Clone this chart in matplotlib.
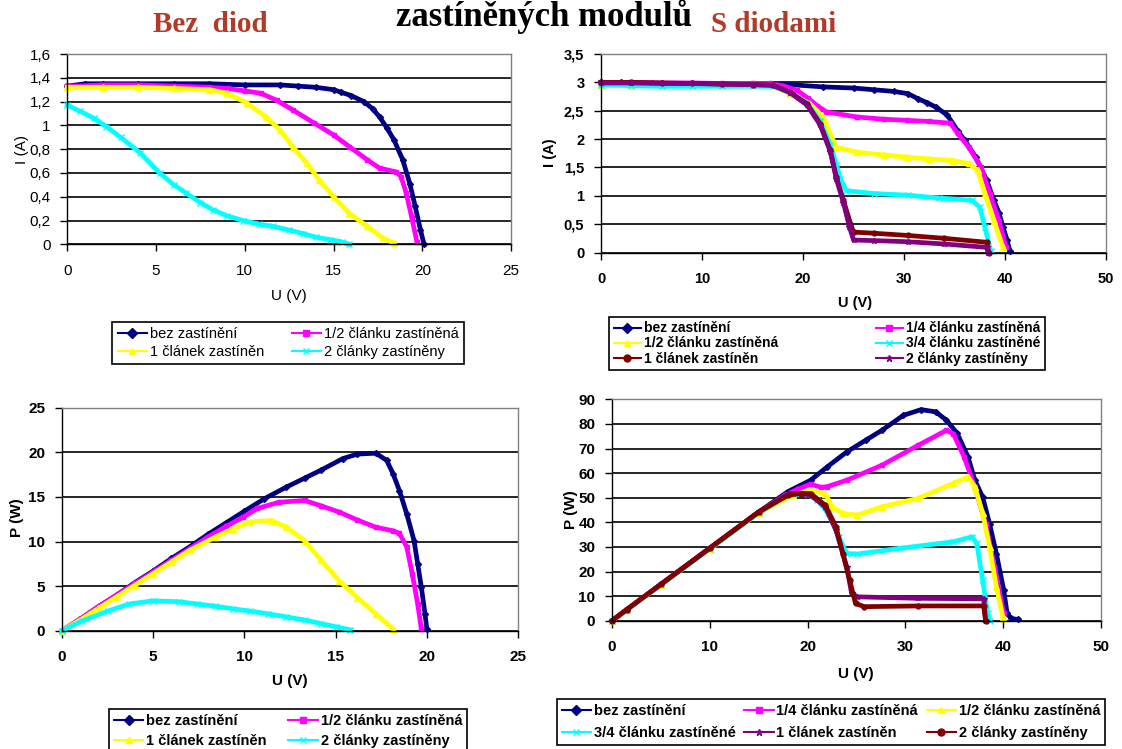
import matplotlib
matplotlib.use("Agg")
import matplotlib.pyplot as plt
from matplotlib.lines import Line2D

W, H = 1122, 749

# ---- I-V, bez diod ----
u1_bez = [0, 1, 2, 4, 6, 8, 10, 12, 13, 14, 15, 15.4, 16, 16.7, 17.2, 17.6, 18, 18.4, 18.9, 19.3, 19.6, 19.9, 20.1]
i1_bez = [1.33, 1.35, 1.35, 1.35, 1.35, 1.35, 1.34, 1.34, 1.33, 1.32, 1.30, 1.28, 1.25, 1.20, 1.14, 1.07, 0.98, 0.88, 0.71, 0.51, 0.32, 0.12, 0.0]
u1_pul = [0, 0.5, 2, 4, 6, 8, 9, 10, 10.9, 11.8, 12.7, 13.9, 15.0, 15.9, 16.9, 17.6, 18.5, 18.8, 19.1, 19.4, 19.7]
i1_pul = [1.33, 1.33, 1.34, 1.34, 1.33, 1.32, 1.31, 1.29, 1.27, 1.21, 1.13, 1.02, 0.92, 0.82, 0.71, 0.64, 0.61, 0.57, 0.43, 0.23, 0.02]
u1_jeden = [0, 2, 4, 6, 8, 9, 10.1, 11.2, 12.0, 12.7, 13.5, 14.2, 15.0, 15.9, 16.9, 17.8, 18.4]
i1_jeden = [1.32, 1.32, 1.32, 1.31, 1.30, 1.27, 1.19, 1.07, 0.96, 0.82, 0.68, 0.54, 0.40, 0.26, 0.15, 0.05, 0.01]
u1_dva = [0, 0.7, 1.5, 2.2, 3.0, 4.1, 5.2, 6.0, 6.7, 7.5, 8.2, 9.0, 9.9, 10.8, 11.6, 12.5, 13.3, 14.0, 14.8, 15.5, 15.9]
i1_dva = [1.17, 1.12, 1.06, 0.99, 0.90, 0.77, 0.60, 0.50, 0.43, 0.35, 0.29, 0.24, 0.20, 0.17, 0.15, 0.12, 0.09, 0.06, 0.04, 0.02, 0.0]

# ---- I-V, s diodami ----
u2_bez = [0, 2, 5, 10, 15, 18.7, 22, 25, 27, 29, 30.4, 31.4, 32.3, 33.2, 34.3, 35.3, 36.0, 37.1, 38.2, 38.9, 39.4, 39.8, 40.2, 40.5]
i2_bez = [3.0, 3.0, 2.98, 2.97, 2.96, 2.96, 2.92, 2.90, 2.87, 2.84, 2.80, 2.71, 2.64, 2.56, 2.42, 2.15, 1.98, 1.68, 1.27, 0.92, 0.70, 0.45, 0.22, 0.02]
u2_ctvrt = [0, 3, 6, 9, 12, 15, 16.7, 18, 19.4, 20.5, 21.4, 22.3, 25.3, 28, 30.3, 32.5, 34.6, 35.3, 36.4, 37.6, 38.5, 39.4, 40.1]
i2_ctvrt = [3.0, 3.0, 2.99, 2.99, 2.98, 2.98, 2.98, 2.94, 2.86, 2.72, 2.59, 2.48, 2.39, 2.35, 2.33, 2.31, 2.28, 2.10, 1.86, 1.51, 1.04, 0.56, 0.09]
u2_pul = [0, 3, 6, 9, 12, 15, 17, 18.7, 20.7, 22.0, 22.7, 23.3, 25.3, 28, 30.3, 32.5, 34.9, 36.4, 37.3, 38.0, 38.9, 39.8]
i2_pul = [2.96, 2.96, 2.95, 2.95, 2.95, 2.95, 2.94, 2.80, 2.62, 2.39, 2.09, 1.86, 1.77, 1.72, 1.68, 1.65, 1.62, 1.57, 1.45, 1.04, 0.56, 0.09]
u2_tri = [0, 3, 6, 9, 12, 15, 17, 18.7, 20.4, 21.7, 22.7, 23.3, 23.7, 24.3, 27.0, 30.4, 33.5, 36.7, 37.5, 38.0, 38.6]
i2_tri = [2.96, 2.94, 2.93, 2.93, 2.93, 2.93, 2.93, 2.82, 2.64, 2.32, 1.90, 1.55, 1.30, 1.09, 1.04, 1.01, 0.96, 0.92, 0.80, 0.45, 0.02]
u2_jeden = [0, 3, 6, 9, 12, 15, 17, 18.7, 20.4, 21.7, 22.7, 23.3, 24.0, 24.7, 25.0, 27, 30.4, 34, 38.2, 38.4]
i2_jeden = [3.0, 3.0, 2.99, 2.98, 2.97, 2.96, 2.95, 2.83, 2.62, 2.27, 1.80, 1.33, 0.92, 0.51, 0.36, 0.34, 0.30, 0.25, 0.18, 0.0]
u2_dva = [0, 3, 6, 9, 12, 15, 17, 18.7, 20.4, 21.7, 22.7, 23.3, 24.0, 24.6, 25.0, 27, 30.4, 34, 38.2, 38.3]
i2_dva = [2.99, 2.99, 2.98, 2.98, 2.97, 2.96, 2.95, 2.82, 2.60, 2.25, 1.78, 1.30, 0.88, 0.45, 0.22, 0.21, 0.19, 0.15, 0.09, 0.0]

# ---- P-V, bez diod ----
u3_bez = [0, 1, 2, 3, 4, 5, 6, 7, 8, 9, 10, 11.1, 12.3, 13.3, 14.2, 15.4, 16.2, 17.2, 17.8, 18.15, 18.5, 18.9, 19.3, 19.5, 19.7, 19.9, 20.0]
p3_bez = [0, 1.3, 2.7, 4.0, 5.4, 6.7, 8.1, 9.4, 10.8, 12.1, 13.4, 14.8, 16.1, 17.1, 18.0, 19.3, 19.8, 19.9, 19.1, 17.6, 15.7, 13.1, 10.1, 7.5, 4.9, 1.9, 0.2]
u3_pul = [0, 1, 2, 3, 4, 5, 6, 7, 8, 9, 9.9, 10.7, 11.9, 13.3, 14.2, 15.2, 16.2, 17.2, 18.15, 18.5, 18.9, 19.2, 19.5, 19.7]
p3_pul = [0, 1.3, 2.7, 4.0, 5.3, 6.6, 7.9, 9.2, 10.5, 11.7, 12.7, 13.7, 14.4, 14.6, 14.0, 13.3, 12.4, 11.6, 11.2, 10.9, 9.4, 6.4, 3.0, 0.2]
u3_jeden = [0, 1, 2, 3, 4, 5, 6, 7, 8.4, 9.35, 10.3, 11.5, 12.3, 13.3, 14.2, 15.2, 16.2, 17.2, 18.15]
p3_jeden = [0, 1.2, 2.5, 3.8, 5.1, 6.4, 7.7, 9.0, 10.5, 11.4, 12.2, 12.35, 11.6, 10.1, 7.9, 5.6, 3.7, 1.9, 0.2]
u3_dva = [0, 1.1, 2.5, 3.7, 5.0, 6.4, 7.4, 8.4, 9.4, 10.3, 11.3, 12.3, 13.3, 14.2, 15.0, 15.8]
p3_dva = [0, 1.1, 2.2, 3.0, 3.35, 3.25, 3.0, 2.75, 2.45, 2.2, 1.9, 1.55, 1.2, 0.8, 0.45, 0.1]

# ---- P-V, s diodami ----
u4_bez = [0, 1.5, 5, 10, 15, 18, 20.3, 22, 24, 26, 27.6, 29.8, 31.6, 33.1, 34.2, 35.3, 36.4, 37.1, 37.9, 38.6, 39.3, 40.05, 40.4, 40.8, 41.5]
p4_bez = [0, 4.5, 14.8, 29.5, 44.2, 52.5, 57.1, 62.5, 68.6, 73.5, 77.4, 83.5, 85.8, 84.9, 81.5, 76.1, 66.6, 57.1, 50.3, 39.5, 27.3, 12.5, 3.0, 0.9, 0.5]
u4_ctvrt = [0, 1.5, 5, 10, 15, 17.7, 19, 20.3, 21.4, 22, 24, 27.6, 31.3, 34.2, 34.9, 36.0, 37.1, 38.2, 39.1, 40.05]
p4_ctvrt = [0, 4.5, 14.8, 29.5, 44.2, 51, 53.5, 55.5, 54.2, 54.5, 57.1, 63.2, 71.3, 77.4, 76.0, 66.6, 54.4, 39.5, 21.9, 3.0]
u4_pul = [0, 1.5, 5, 10, 15, 18.5, 20.3, 21.8, 22.5, 23.6, 25.1, 27.6, 31.3, 34.9, 36.4, 37.1, 37.9, 38.6, 39.3, 40.0]
p4_pul = [0, 4.4, 14.6, 29.2, 43.8, 51, 53, 51.7, 46.3, 43.6, 42.9, 46.3, 49.7, 55.8, 58.5, 54.4, 43.6, 30.0, 13.8, 0.9]
u4_tri = [0, 1.5, 5, 10, 15, 18, 20, 21, 22.1, 23.2, 24.0, 25.1, 29.4, 34.9, 36.8, 37.3, 37.9, 38.4, 38.6]
p4_tri = [0, 4.4, 14.6, 29.2, 43.8, 51, 51.5, 49, 43.6, 34.1, 27.3, 27.1, 29.4, 32.1, 34.1, 31.4, 16.5, 3.0, 0]
u4_jeden = [0, 1.5, 5, 10, 15, 18.1, 19.5, 20.3, 21.8, 22.9, 24.0, 24.5, 25.1, 31.3, 38.0, 38.2]
p4_jeden = [0, 4.5, 14.8, 29.5, 44.2, 51.7, 51.7, 51, 46.3, 36.8, 21.9, 11.1, 9.7, 9.1, 8.9, 0]
u4_dva = [0, 1.5, 5, 10, 15, 18, 19.3, 20.3, 21.8, 22.9, 23.6, 24.3, 24.9, 25.8, 31.3, 38.0, 38.2]
p4_dva = [0, 4.5, 14.8, 29.5, 44.2, 51, 51.7, 51.7, 47, 38.2, 27.3, 16.5, 7.0, 5.7, 6.0, 6.0, 0]

lbl_bez = "bez zastínění"
lbl_ctvrt = "1/4 článku zastíněná"
lbl_pul = "1/2 článku zastíněná"
lbl_tri = "3/4 článku zastíněné"
lbl_jeden = "1 článek zastíněn"
lbl_dva = "2 články zastíněny"

NAVY, MAG, YEL, CYA, PUR, MAR = "#000080", "#FF00FF", "#FFFF00", "#00FFFF", "#800080", "#800000"
TITLE_RED = "#B23A28"

plt.rcParams["font.family"] = ["Liberation Sans", "DejaVu Sans"]

fig = plt.figure(figsize=(W / 100, H / 100), dpi=100)


def px_axes(l, t, r, b):
    return fig.add_axes([l / W, 1 - b / H, (r - l) / W, (b - t) / H])


def style(ax, xlim, ylim, xticks, yticks, ylabels, bold, fs):
    ax.set_xlim(*xlim)
    ax.set_ylim(*ylim)
    ax.set_xticks(xticks)
    ax.set_yticks(yticks)
    ax.set_yticklabels(ylabels)
    ax.set_xticklabels([str(v) for v in xticks])
    w = "bold" if bold else "normal"
    for t in ax.get_xticklabels() + ax.get_yticklabels():
        t.set_fontweight(w)
        t.set_fontsize(fs)
    ax.tick_params(direction="out", length=5, width=1, color="black")
    ax.tick_params(axis="x", pad=9)
    ax.tick_params(axis="y", pad=7)
    ax.yaxis.grid(True, color="black", lw=1.2)
    ax.set_axisbelow(True)
    for s in ("left", "bottom"):
        ax.spines[s].set_color("black")
        ax.spines[s].set_linewidth(1)
    for s in ("top", "right"):
        ax.spines[s].set_color("#808080")
        ax.spines[s].set_linewidth(1)


def series(ax, u, v, color, marker, ms=4, lw=3.4):
    ax.plot(u, v, color=color, lw=lw, marker=marker, ms=ms, mec=color, mfc=color, clip_on=False)


def handle(color, marker):
    return Line2D([], [], color=color, lw=1.5, marker=marker, ms=5, mec=color, mfc=color)


def put_legend(ax, items, cx, cy, ncol, bold, fs, lsp, csp):
    hs = [handle(c, m) for c, m, _ in items]
    ls = [l for _, _, l in items]
    leg = ax.legend(hs, ls, loc="center", bbox_to_anchor=(cx / W, 1 - cy / H),
                    bbox_transform=fig.transFigure, ncol=ncol, frameon=True,
                    fancybox=False, edgecolor="black", framealpha=1,
                    prop={"size": fs, "weight": "bold" if bold else "normal"},
                    handlelength=2.0, handletextpad=0.2, labelspacing=lsp,
                    columnspacing=csp, borderpad=0.35)
    leg.get_frame().set_linewidth(1.2)
    return leg


def flabel(x, y, s, rot=0, bold=False, fs=11):
    fig.text(x / W, 1 - y / H, s, ha="center", va="center", rotation=rot,
             fontsize=fs, fontweight="bold" if bold else "normal")


# Panel 1
ax1 = px_axes(67.3, 54, 511, 244.3)
series(ax1, u1_bez, i1_bez, NAVY, "D", ms=3)
series(ax1, u1_pul, i1_pul, MAG, "s", ms=3.5)
series(ax1, u1_jeden, i1_jeden, YEL, "^", ms=4)
series(ax1, u1_dva, i1_dva, CYA, "x", ms=4)
style(ax1, (0, 25), (0, 1.6), [0, 5, 10, 15, 20, 25],
      [0, 0.2, 0.4, 0.6, 0.8, 1, 1.2, 1.4, 1.6],
      ["0", "0,2", "0,4", "0,6", "0,8", "1", "1,2", "1,4", "1,6"], False, 11)
flabel(289, 296, "U (V)")
flabel(22, 150, "I (A)", rot=90)
put_legend(ax1, [(NAVY, "D", lbl_bez), (YEL, "^", lbl_jeden),
                 (MAG, "s", lbl_pul), (CYA, "x", lbl_dva)],
           288, 343, 2, False, 10.5, 0.3, 1.9)

# Panel 2
ax2 = px_axes(601, 54, 1106, 252.5)
series(ax2, u2_bez, i2_bez, NAVY, "D", ms=3)
series(ax2, u2_ctvrt, i2_ctvrt, MAG, "s", ms=3.5)
series(ax2, u2_pul, i2_pul, YEL, "^", ms=4)
series(ax2, u2_tri, i2_tri, CYA, "x", ms=4)
series(ax2, u2_jeden, i2_jeden, MAR, "o", ms=3.5)
series(ax2, u2_dva, i2_dva, PUR, "*", ms=4)
style(ax2, (0, 50), (0, 3.5), [0, 10, 20, 30, 40, 50],
      [0, 0.5, 1, 1.5, 2, 2.5, 3, 3.5],
      ["0", "0,5", "1", "1,5", "2", "2,5", "3", "3,5"], True, 10.5)
flabel(855, 303, "U (V)", bold=True, fs=10.5)
flabel(550, 153, "I (A)", rot=90, bold=True, fs=10.5)
put_legend(ax2, [(NAVY, "D", lbl_bez), (YEL, "^", lbl_pul), (MAR, "o", lbl_jeden),
                 (MAG, "s", lbl_ctvrt), (CYA, "x", lbl_tri), (PUR, "*", lbl_dva)],
           827, 343.5, 2, True, 10, 0.08, 7.0)

# Panel 3
ax3 = px_axes(62, 407.7, 518, 630.7)
series(ax3, u3_bez, p3_bez, NAVY, "D", ms=3)
series(ax3, u3_pul, p3_pul, MAG, "s", ms=3.5)
series(ax3, u3_jeden, p3_jeden, YEL, "^", ms=4)
series(ax3, u3_dva, p3_dva, CYA, "x", ms=4)
style(ax3, (0, 25), (0, 25), [0, 5, 10, 15, 20, 25], [0, 5, 10, 15, 20, 25],
      ["0", "5", "10", "15", "20", "25"], True, 11)
flabel(290, 681, "U (V)", bold=True, fs=11)
flabel(17, 518, "P (W)", rot=90, bold=True, fs=11)
put_legend(ax3, [(NAVY, "D", lbl_bez), (YEL, "^", lbl_jeden),
                 (MAG, "s", lbl_pul), (CYA, "x", lbl_dva)],
           288, 731, 2, True, 10.5, 0.45, 1.5)

# Panel 4
ax4 = px_axes(612, 399.3, 1101, 620.7)
series(ax4, u4_bez, p4_bez, NAVY, "D", ms=3)
series(ax4, u4_ctvrt, p4_ctvrt, MAG, "s", ms=3.5)
series(ax4, u4_pul, p4_pul, YEL, "^", ms=4)
series(ax4, u4_tri, p4_tri, CYA, "x", ms=4)
series(ax4, u4_jeden, p4_jeden, PUR, "*", ms=4)
series(ax4, u4_dva, p4_dva, MAR, "o", ms=3.5)
style(ax4, (0, 50), (0, 90), [0, 10, 20, 30, 40, 50], list(range(0, 91, 10)),
      [str(v) for v in range(0, 91, 10)], True, 11)
flabel(856, 674, "U (V)", bold=True, fs=11)
flabel(571, 510, "P (W)", rot=90, bold=True, fs=11)
put_legend(ax4, [(NAVY, "D", lbl_bez), (CYA, "x", lbl_tri),
                 (MAG, "s", lbl_ctvrt), (PUR, "*", lbl_jeden),
                 (YEL, "^", lbl_pul), (MAR, "o", lbl_dva)],
           831, 722, 3, True, 10.5, 0.55, 0.6)

# Titles
serif = ["Liberation Serif", "DejaVu Serif"]
fig.text(544 / W, 1 - 26 / H, "zastíněných modulů", ha="center", va="baseline",
         fontsize=25, fontweight="bold", family=serif, color="black")
fig.text(210 / W, 1 - 32 / H, "Bez  diod", ha="center", va="baseline",
         fontsize=21, fontweight="bold", family=serif, color=TITLE_RED)
fig.text(774 / W, 1 - 32 / H, "S diodami", ha="center", va="baseline",
         fontsize=21, fontweight="bold", family=serif, color=TITLE_RED)

fig.savefig("out.png", dpi=100)
